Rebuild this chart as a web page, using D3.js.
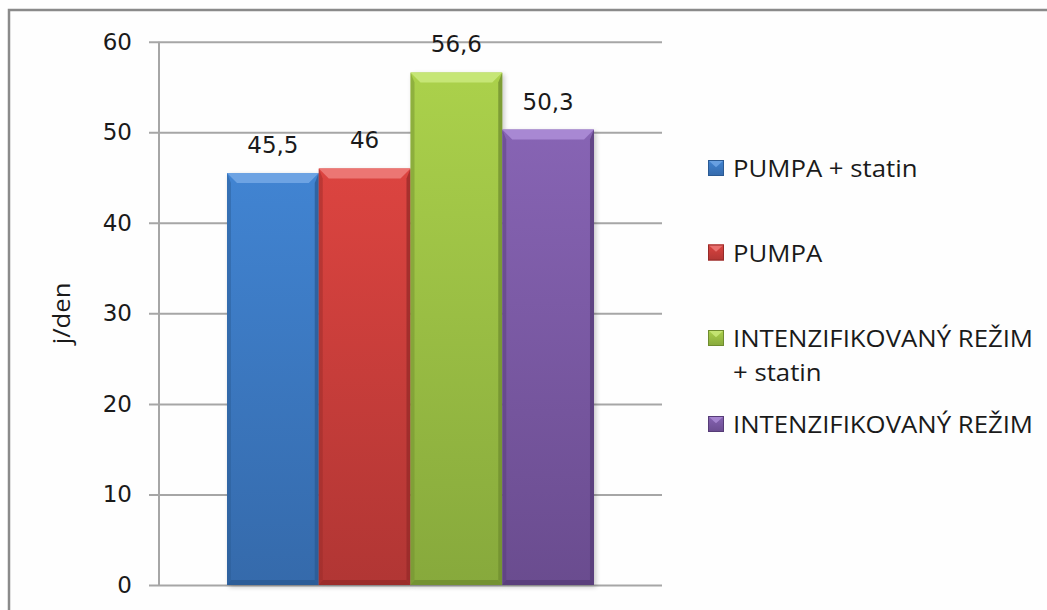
<!DOCTYPE html>
<html>
<head>
<meta charset="utf-8">
<script src="https://cdn.jsdelivr.net/npm/d3@7"></script>
<style>
  body { margin: 0; background: #ffffff; }
  svg { display: block; }
</style>
</head>
<body>
<svg id="chart" width="1047" height="610"></svg>
<script>
// ---- data ----
const categories = ["skupina"];
const seriesNames = ["PUMPA + statin", "PUMPA", "INTENZIFIKOVANÝ REŽIM + statin", "INTENZIFIKOVANÝ REŽIM"];
const legendLines = [["PUMPA + statin"], ["PUMPA"], ["INTENZIFIKOVANÝ REŽIM", "+ statin"], ["INTENZIFIKOVANÝ REŽIM"]];
const values = [45.5, 46, 56.6, 50.3];
const valueLabels = ["45,5", "46", "56,6", "50,3"];
const yTicks = [0, 10, 20, 30, 40, 50, 60];
const yTitle = "j/den";

// bar palette: body top, body bottom, top bevel, side/bottom shade
const palette = [
  { top: "#4184d2", bottom: "#356aab", bevel: "#6da3e3", shade: "#2b5a93" },
  { top: "#dc4440", bottom: "#b13634", bevel: "#ec7673", shade: "#962a28" },
  { top: "#abd14b", bottom: "#87a93c", bevel: "#c6e676", shade: "#6f8c2f" },
  { top: "#8764b4", bottom: "#6a4c8f", bevel: "#a888d3", shade: "#563c77" }
];

const svg = d3.select("#chart");
const W = 1047, H = 610;
const plot = { left: 159, right: 662, top: 41.7, bottom: 585 };
const textStretch = 1.12; // legend / title lettering is drawn slightly wide

svg.append("rect").attr("width", W).attr("height", H).attr("fill", "#fefefe");

// outer chart frame (runs off the right and bottom edges)
svg.append("rect")
  .attr("x", 9).attr("y", 10)
  .attr("width", W + 20).attr("height", H + 20)
  .attr("fill", "none").attr("stroke", "#8a8a8a").attr("stroke-width", 2.5);

const defs = svg.append("defs");
palette.forEach((c, i) => {
  const g = defs.append("linearGradient").attr("id", "body" + i)
    .attr("x1", 0).attr("y1", 0).attr("x2", 0).attr("y2", 1);
  g.append("stop").attr("offset", "0%").attr("stop-color", c.top);
  g.append("stop").attr("offset", "100%").attr("stop-color", c.bottom);
});
const shadow = defs.append("filter").attr("id", "shadow")
  .attr("x", "-10%").attr("y", "-10%").attr("width", "130%").attr("height", "130%");
shadow.append("feGaussianBlur").attr("stdDeviation", 2.5);

// ---- scales ----
const y = d3.scaleLinear().domain([0, 60]).range([plot.bottom, plot.top]);
const x0 = d3.scaleBand().domain(categories).range([plot.left, plot.right])
  .paddingInner(0).paddingOuter(0.1853);
const x1 = d3.scaleBand().domain(seriesNames).range([0, x0.bandwidth()]).padding(0);

// ---- grid & axis ----
const yAxis = d3.axisLeft(y).tickValues(yTicks).tickSize(-(plot.right - plot.left)).tickPadding(17);
const ga = svg.append("g").attr("transform", `translate(${plot.left},0)`).call(yAxis);
ga.select(".domain").remove();
ga.selectAll(".tick line")
  .attr("x1", -10)
  .attr("stroke", "#a6a6a6").attr("stroke-width", 2);
ga.selectAll(".tick text")
  .attr("x", -27)
  .attr("fill", "#1a1a1a")
  .style("font-family", "'DejaVu Sans', Verdana, sans-serif")
  .style("font-size", "23px");
svg.append("line")
  .attr("x1", plot.left).attr("x2", plot.left)
  .attr("y1", y(60)).attr("y2", y(0))
  .attr("stroke", "#a6a6a6").attr("stroke-width", 2);

// ---- y title ----
svg.append("text")
  .attr("transform", `translate(70,${(plot.top + plot.bottom) / 2}) rotate(-90) scale(${textStretch},1)`)
  .attr("text-anchor", "middle")
  .attr("fill", "#1a1a1a")
  .style("font-family", "'Open Sans', sans-serif")
  .style("font-size", "23px")
  .text(yTitle);

// ---- bars ----
const bars = svg.append("g").attr("transform", `translate(${x0(categories[0])},0)`);
const data = seriesNames.map((s, i) => ({ s, v: values[i], label: valueLabels[i], c: palette[i], i }));

// soft shadow behind the group of bars
bars.selectAll("rect.sh").data(data).join("rect").attr("class", "sh")
  .attr("x", d => x1(d.s) + 2).attr("y", d => y(d.v) + 2)
  .attr("width", x1.bandwidth()).attr("height", d => y(0) - y(d.v))
  .attr("fill", "#000").attr("opacity", 0.22).attr("filter", "url(#shadow)");

const bt = 10, bs = 4, bb = 5; // bevel widths: top, sides, bottom
const bar = bars.selectAll("g.bar").data(data).join("g").attr("class", "bar");
bar.append("rect")
  .attr("x", d => x1(d.s)).attr("y", d => y(d.v))
  .attr("width", x1.bandwidth()).attr("height", d => y(0) - y(d.v))
  .attr("fill", d => `url(#body${d.i})`);
// left edge
bar.append("polygon").attr("points", d => {
  const xa = x1(d.s), ya = y(d.v), yb = y(0);
  return [[xa, ya], [xa + bs, ya + bt], [xa + bs, yb - bb], [xa, yb]].join(" ");
}).attr("fill", d => d.c.shade).attr("opacity", 0.45);
// right edge
bar.append("polygon").attr("points", d => {
  const xa = x1(d.s) + x1.bandwidth(), ya = y(d.v), yb = y(0);
  return [[xa, ya], [xa - bs, ya + bt], [xa - bs, yb - bb], [xa, yb]].join(" ");
}).attr("fill", d => d.c.shade).attr("opacity", 0.75);
// bottom edge
bar.append("polygon").attr("points", d => {
  const xa = x1(d.s), xb = xa + x1.bandwidth(), yb = y(0);
  return [[xa, yb], [xa + bs, yb - bb], [xb - bs, yb - bb], [xb, yb]].join(" ");
}).attr("fill", d => d.c.shade).attr("opacity", 0.8);
// top bevel
bar.append("polygon").attr("points", d => {
  const xa = x1(d.s), xb = xa + x1.bandwidth(), ya = y(d.v);
  return [[xa, ya], [xb, ya], [xb - bt, ya + bt], [xa + bt, ya + bt]].join(" ");
}).attr("fill", d => d.c.bevel);

// value labels
bar.append("text")
  .attr("x", d => x1(d.s) + x1.bandwidth() / 2)
  .attr("y", d => y(d.v) - 20)
  .attr("text-anchor", "middle")
  .attr("fill", "#1a1a1a")
  .style("font-family", "'DejaVu Sans', Verdana, sans-serif")
  .style("font-size", "23px")
  .text(d => d.label);

// ---- legend ----
const legendBaselines = [177, 261.5, 347, 433];
const lineGap = 33.5;
const legend = svg.append("g");
data.forEach((d, i) => {
  const g = legend.append("g").attr("transform", `translate(708,${legendBaselines[i]})`);
  const s = 16, top = -17;
  g.append("rect").attr("x", 0).attr("y", top).attr("width", s).attr("height", s)
    .attr("fill", `url(#body${i})`);
  g.append("polygon")
    .attr("points", [[0, top], [s, top], [s / 2, top + s * 0.45]].join(" "))
    .attr("fill", d.c.bevel).attr("opacity", 0.9);
  g.append("rect").attr("x", 0.5).attr("y", top + 0.5).attr("width", s - 1).attr("height", s - 1)
    .attr("fill", "none").attr("stroke", d.c.shade).attr("stroke-width", 1);
  legendLines[i].forEach((ln, j) => {
    g.append("text")
      .attr("transform", `translate(25,${j * lineGap}) scale(${textStretch},1)`)
      .attr("fill", "#1a1a1a")
      .style("font-family", "'Open Sans', sans-serif")
      .style("font-size", "23px")
      .text(ln);
  });
});
</script>
</body>
</html>
